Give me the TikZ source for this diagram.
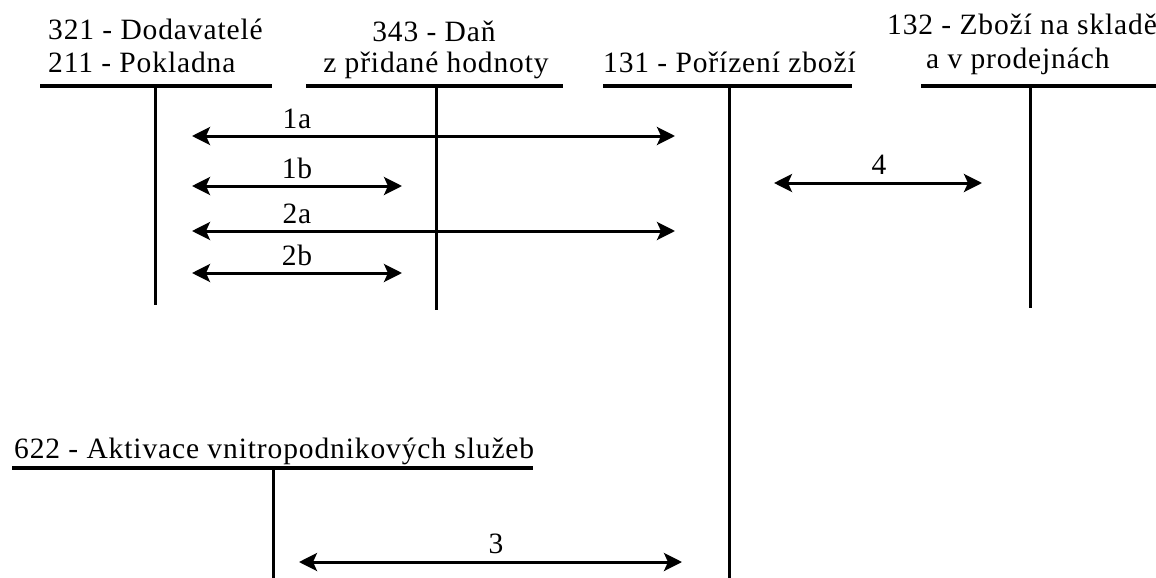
\documentclass[tikz,border=0pt]{standalone}
\usepackage{fontspec}
\setmainfont{Liberation Serif}[LetterSpace=3]
\usetikzlibrary{arrows.meta}
\tikzset{
  lbl/.style={anchor=base, inner sep=0pt, font=\fontsize{29.5}{33}\selectfont},
  lblw/.style={anchor=base west, inner sep=0pt, font=\fontsize{29.5}{33}\selectfont},
  tline/.style={line width=4pt},
  tvert/.style={line width=3pt},
  dbl/.style={line width=3pt, {Stealth[length=18pt,width=18pt,inset=4pt]}-{Stealth[length=18pt,width=18pt,inset=4pt]}},
}
\begin{document}
\begin{tikzpicture}[x=1pt,y=-1pt]
\useasboundingbox (0,0) rectangle (1156,578);
% account 321/211
\node[lblw] (t1a) at (48,40) {321 - Dodavatelé};
\node[lblw] (t1b) at (48,72) {211 - Pokladna};
\draw[tline] (40,86) coordinate (h1l) -- (272,86) coordinate (h1r);
\draw[tvert] (155,86) coordinate (v1t) -- (155,305) coordinate (v1b);
% account 343
\node[lbl] (t2a) at (434,42) {343 - Daň};
\node[lbl] (t2b) at (436,72) {z přidané hodnoty};
\draw[tline] (306,86) coordinate (h2l) -- (563,86) coordinate (h2r);
\draw[tvert] (436,86) coordinate (v2t) -- (436,310) coordinate (v2b);
% account 131
\node[lblw] (t3) at (603,72) {131 - Pořízení zboží};
\draw[tline] (603,86) coordinate (h3l) -- (852,86) coordinate (h3r);
\draw[tvert] (729,86) coordinate (v3t) -- (729,578) coordinate (v3b);
% account 132
\node[lblw] (t4a) at (887,35) {132 - Zboží na skladě};
\node[lblw] (t4b) at (926,68) {a v prodejnách};
\draw[tline] (921,86) coordinate (h4l) -- (1156,86) coordinate (h4r);
\draw[tvert] (1030,86) coordinate (v4t) -- (1030,308) coordinate (v4b);
% account 622
\node[lblw] (t5) at (14,458) {622 - Aktivace vnitropodnikových služeb};
\draw[tline] (12,468) coordinate (h5l) -- (533,468) coordinate (h5r);
\draw[tvert] (273,468) coordinate (v5t) -- (273,578) coordinate (v5b);
% arrows
\coordinate (a1l) at (192,136); \coordinate (a1r) at (675,136);
\coordinate (b1l) at (192,186); \coordinate (b1r) at (402,186);
\coordinate (a2l) at (192,231); \coordinate (a2r) at (675,231);
\coordinate (b2l) at (192,273); \coordinate (b2r) at (402,273);
\coordinate (a4l) at (774,183); \coordinate (a4r) at (982,183);
\coordinate (a3l) at (299,562); \coordinate (a3r) at (682,562);
\draw[dbl] (a1l) -- (a1r);
\draw[dbl] (b1l) -- (b1r);
\draw[dbl] (a2l) -- (a2r);
\draw[dbl] (b2l) -- (b2r);
\draw[dbl] (a4l) -- (a4r);
\draw[dbl] (a3l) -- (a3r);
\node[lbl] (l1a) at (297,128) {1a};
\node[lbl] (l1b) at (297,178) {1b};
\node[lbl] (l2a) at (297,223) {2a};
\node[lbl] (l2b) at (297,265) {2b};
\node[lbl] (l4) at (879,174) {4};
\node[lbl] (l3) at (496,553) {3};
\end{tikzpicture}
\end{document}
